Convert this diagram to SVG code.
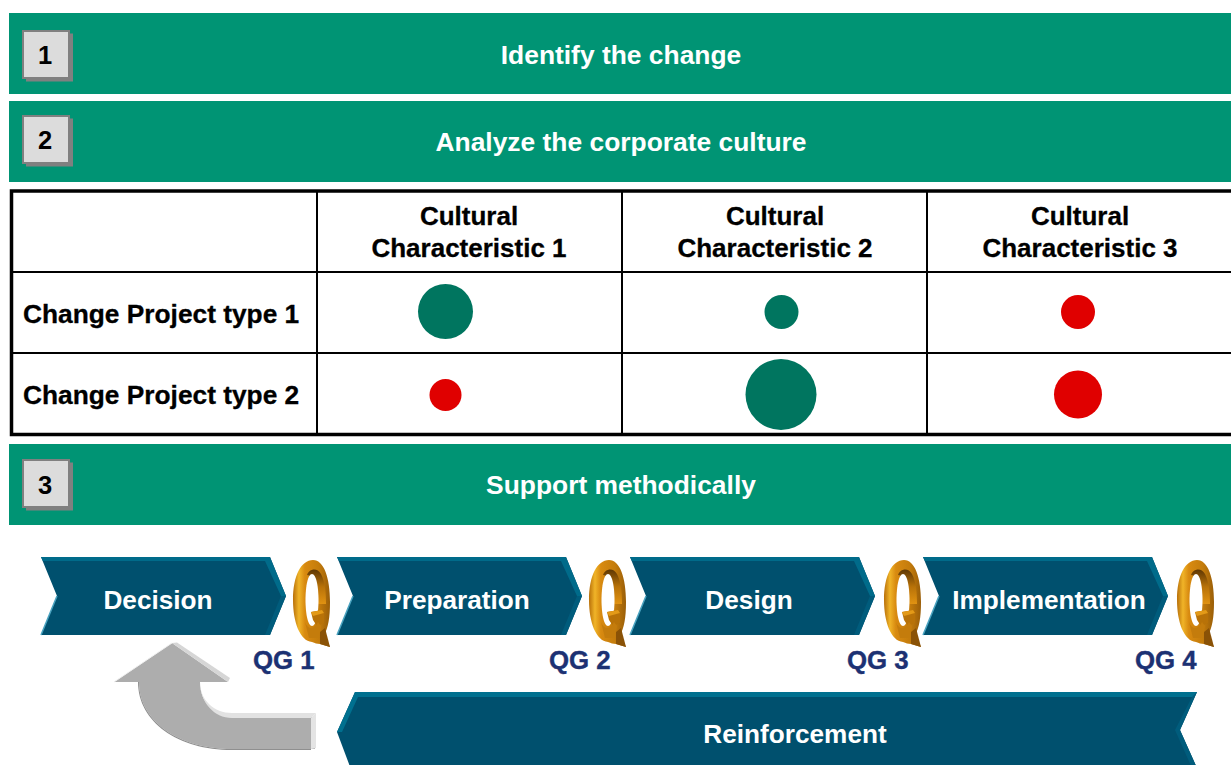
<svg xmlns="http://www.w3.org/2000/svg" xmlns:xlink="http://www.w3.org/1999/xlink" width="1231" height="765" viewBox="0 0 1231 765">
<style>
text{font-family:"Liberation Sans",Arial,sans-serif;font-weight:700}
.bar{fill:#009474}
.bt{fill:#fff;font-size:26.4px;text-anchor:middle}
.num{fill:#000;font-size:25.500px;text-anchor:middle}
.tt{fill:#000;font-size:26px;text-anchor:middle;stroke:#000;stroke-width:.3px}
.tl{fill:#000;font-size:26.3px;stroke:#000;stroke-width:.3px}
.ch{fill:#fff;font-size:26.2px;text-anchor:middle}
.qg{fill:#1c3173;font-size:25.800px;stroke:#1c3173;stroke-width:.4px}
.g{fill:#00755f}.r{fill:#e00000}
.thin{stroke:#000;stroke-width:2;fill:none}
</style>
<defs>
<linearGradient id="gold" x1="0" y1="0" x2="1" y2="0">
<stop offset="0" stop-color="#b8700a"/><stop offset=".16" stop-color="#f0b428"/><stop offset=".32" stop-color="#d88a10"/><stop offset=".7" stop-color="#c47c0c"/><stop offset="1" stop-color="#9a5e08"/>
</linearGradient>
<linearGradient id="goldIn" x1="0" y1="0" x2="0" y2="1">
<stop offset="0" stop-color="#5e3704"/><stop offset=".5" stop-color="#b87208"/><stop offset="1" stop-color="#e09212"/>
</linearGradient>
<g id="btn">
<rect x="4" y="3.500" width="47" height="48" fill="#808080"/>
<rect x="1" y="1" width="46" height="47" fill="#dcdcdc" stroke="#808080" stroke-width="2"/>
</g>
<g id="chev">
<polygon points="0,0 229,0 245,39 229,78 0,78 16,39" fill="#00506e"/>
<polygon points="0,0 229,0 245,39 240,39 224,4 2,4" fill="#006b8a"/>
<polygon points="245,39 229,78 224,78 240,39" fill="#005c7c"/>
<polyline points="16,39 0,78" fill="none" stroke="#4aa3c0" stroke-width="1.500"/>
</g>
<g id="q">
<path d="M20 0 C31 0 37 18 37 42 C37 58 35 68 31 75 L37 87 L27 84 C24 84 22 83 19 82 C7 81 0 62 0 40 C0 16 8 0 20 0 Z" fill="url(#gold)"/>
<path d="M14 15 C16 9 24 7 28 14 C32 22 33 32 33 44 L25 44 C25 30 22 16 14 15 Z" fill="url(#goldIn)"/>
<path d="M19 14 C23 14 25.500 26 25.500 40 C25.500 54 23 66 19 66 C15 66 12.500 54 12.500 40 C12.500 26 15 14 19 14 Z" fill="#fff"/>
<path d="M18 52 L29 50 L31 53 L31 63 L24 66 L20 60 Z" fill="#b87208"/>
<path d="M18 52 L29 50 L31 53 L20 56 Z" fill="#e39a18"/>
<path d="M12 62 C15 70 21 70 25 62 L28 66 L26 78 L16 78 Z" fill="#c47c0c"/>
<path d="M27 72 L32 68 L37 87 L27 84 Z" fill="#8a5206"/>
</g>
</defs>

<g id="step1">
<rect class="bar" x="9" y="13" width="1222" height="81"/>
<use xlink:href="#btn" href="#btn" x="22" y="30"/>
<text class="num" x="45" y="64">1</text>
<text class="bt" x="621" y="64">Identify the change</text>
</g>
<g id="step2">
<rect class="bar" x="9" y="101" width="1222" height="81"/>
<use xlink:href="#btn" href="#btn" x="22" y="115"/>
<text class="num" x="45" y="149">2</text>
<text class="bt" x="621" y="151">Analyze the corporate culture</text>
</g>

<g id="table">
<path class="thin" d="M317 190V435M622 190V435M927 190V435M11 272H1231M11 353H1231"/>
<path d="M1233 191H11.500V434.500H1233" fill="none" stroke="#000" stroke-width="3.500"/>
<text class="tt" x="469" y="225">Cultural</text>
<text class="tt" x="469" y="257">Characteristic 1</text>
<text class="tt" x="775" y="225">Cultural</text>
<text class="tt" x="775" y="257">Characteristic 2</text>
<text class="tt" x="1080" y="225">Cultural</text>
<text class="tt" x="1080" y="257">Characteristic 3</text>
<text class="tl" x="23" y="323">Change Project type 1</text>
<text class="tl" x="23" y="404">Change Project type 2</text>
<circle class="g" cx="445.500" cy="311.500" r="27.500"/>
<circle class="g" cx="781.500" cy="312" r="17"/>
<circle class="r" cx="1078" cy="312" r="17"/>
<circle class="r" cx="445.500" cy="395" r="16"/>
<circle class="g" cx="781" cy="394.500" r="35.500"/>
<circle class="r" cx="1078" cy="394.500" r="24"/>
</g>

<g id="step3">
<rect class="bar" x="9" y="444" width="1222" height="81"/>
<use xlink:href="#btn" href="#btn" x="22" y="459"/>
<text class="num" x="45" y="494">3</text>
<text class="bt" x="621" y="494">Support methodically</text>
</g>

<g id="decision">
<use xlink:href="#chev" href="#chev" x="41" y="557"/>
<text class="ch" x="158" y="609">Decision</text>
</g>
<g id="preparation">
<use xlink:href="#chev" href="#chev" x="337" y="557"/>
<text class="ch" x="457" y="609">Preparation</text>
</g>
<g id="design">
<use xlink:href="#chev" href="#chev" x="630" y="557"/>
<text class="ch" x="749" y="609">Design</text>
</g>
<g id="implementation">
<use xlink:href="#chev" href="#chev" x="923" y="557"/>
<text class="ch" x="1049" y="609">Implementation</text>
</g>

<g id="qg1"><use xlink:href="#q" href="#q" x="293" y="560"/><text class="qg" x="253" y="669">QG 1</text></g>
<g id="qg2"><use xlink:href="#q" href="#q" x="589" y="560"/><text class="qg" x="549" y="669">QG 2</text></g>
<g id="qg3"><use xlink:href="#q" href="#q" x="884" y="560"/><text class="qg" x="847" y="669">QG 3</text></g>
<g id="qg4"><use xlink:href="#q" href="#q" x="1177" y="560"/><text class="qg" x="1135" y="669">QG 4</text></g>

<g id="feedback-arrow">
<path d="M172 643 L228 682 L200 682 C200 702 214 717 236 717 L315 717 L315 749 L232 749 C180 749 139 722 139 682 L114 682 Z" fill="#adadad"/>
<path d="M172 643 L177 642.500 L230 678 L228 682 Z" fill="#d6d6d6"/>
<path d="M200 682 C200 700 214 713 232 713 L316 713 L311 718 L232 718 C214 718 200 702 200 682 Z" fill="#e2e2e2"/>
<path d="M311 718 L316 713 L316 748 L311 749 Z" fill="#e4e4e4"/>
<path d="M139 682 C139 722 180 749 232 749 L311 749 L311 750 L232 750 C178 750 138 722 138 682 Z" fill="#8f8f8f"/>
<path d="M114 682 L172 643" stroke="#f0f0f0" stroke-width="1" fill="none"/>
</g>

<g id="reinforcement">
<polygon points="355,692 1197,692 1180,730 1197,768 355,780 337,732" fill="#00506e"/>
<polygon points="355,692 1197,692 1193,697 358,697 342,732 337,732" fill="#00708f"/>
<polygon points="1197,692 1180,730 1197,768 1192,768 1175,730 1192,697" fill="#005c7c"/>
<text class="ch" x="795" y="743">Reinforcement</text>
</g>
</svg>
